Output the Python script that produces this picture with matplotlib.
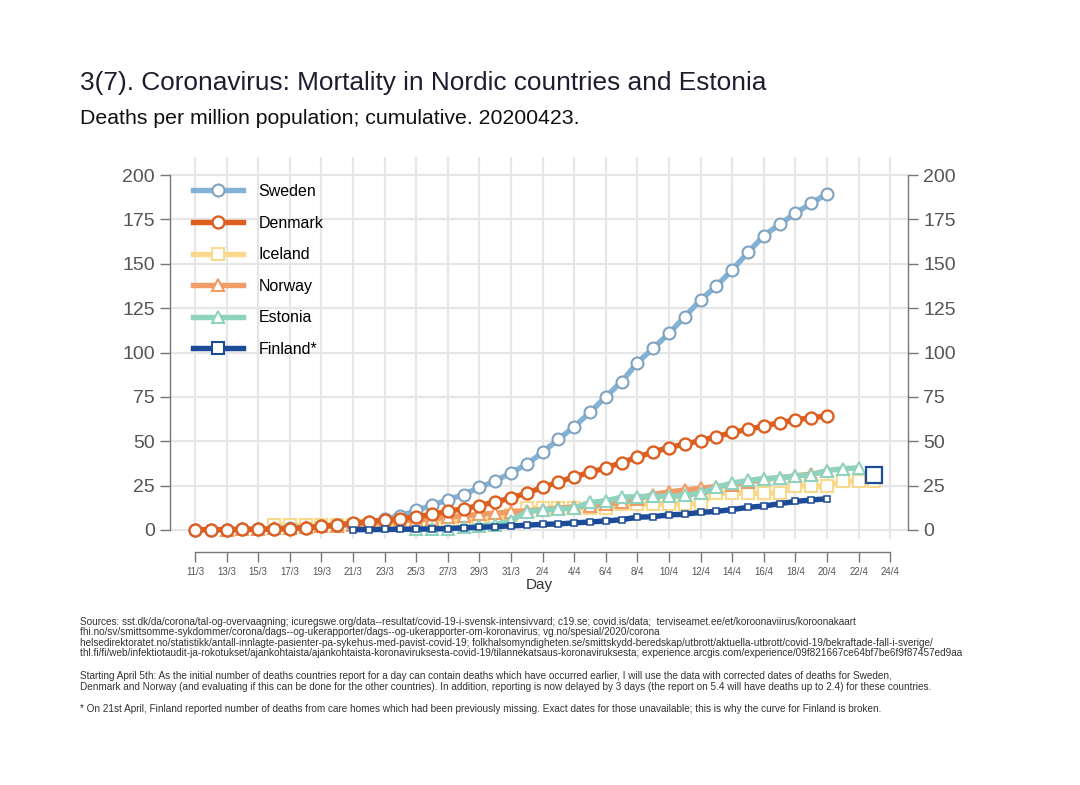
import matplotlib
matplotlib.use('Agg')
import matplotlib.pyplot as plt
import numpy as np
from matplotlib.lines import Line2D

plt.rcParams['font.family'] = ['Liberation Sans', 'DejaVu Sans']

# ---------------- data (day 0 = 11 March 2020) ----------------
tick_labels = ['11/3', '13/3', '15/3', '17/3', '19/3', '21/3', '23/3', '25/3', '27/3',
               '29/3', '31/3', '2/4', '4/4', '6/4', '8/4', '10/4', '12/4', '14/4',
               '16/4', '18/4', '20/4', '22/4', '24/4']
y_ticks = [0, 25, 50, 75, 100, 125, 150, 175, 200]

sweden_start = 0
sweden = [0.1, 0.1, 0.2, 0.3, 0.5, 0.7, 1.0, 1.4, 2.0, 2.7, 3.5, 4.5, 6.0,
          8.0, 11.0, 14.0, 17.0, 20.0, 24.0, 27.6, 32.3, 37.0, 43.8, 51.1, 58.2, 66.3, 75.1,
          83.5, 94.3, 102.4, 110.8, 120.2, 129.6, 137.5, 146.5, 156.4, 165.8, 172.2, 178.4,
          184.1, 189.3]

denmark_start = 0
denmark = [0.2, 0.2, 0.2, 0.3, 0.3, 0.5, 0.7, 1.2, 2.1, 2.8, 4.0, 4.7, 5.5, 6.3, 7.4,
           8.8, 10.5, 12.0, 13.8, 15.8, 18.0, 20.8, 24.0, 27.0, 30.0, 32.5, 35.0, 38.0,
           41.0, 44.0, 46.4, 48.5, 50.3, 52.6, 55.0, 56.7, 58.6, 60.5, 62.0, 63.3, 64.2]

iceland_start = 5
iceland = [2.75] * 8 + [5.5] * 7 + [8.2] + [12.4] * 6 + [14.6] * 6 + [20.8] * 5 + \
          [24.7] * 3 + [27.5] * 3

norway_start = 2
norway = [0.2, 0.4, 0.6, 0.9, 1.3, 1.7, 2.0, 2.4, 3.0, 3.5, 4.3, 5.0, 5.6, 6.3, 7.2,
          8.0, 8.8, 9.5, 10.2, 10.8, 11.5, 12.3, 13.0, 13.7, 14.5, 15.5, 17.5, 20.0,
          21.5, 22.5, 23.5, 24.5, 25.5, 27.0, 28.5, 29.5, 30.5, 31.5, 33.0]

estonia_start = 14
estonia = [0.75, 0.75, 0.75, 1.5, 2.3, 3.0, 5.3, 10.3, 11.3, 11.7, 12.4, 15.5, 16.5,
           18.5, 18.8, 19.0, 19.0, 19.5, 20.8, 24.0, 26.5, 27.9, 29.0, 29.3, 30.5, 31.0,
           33.5, 34.5, 35.0]

finland_start = 10
finland = [0.2, 0.2, 0.3, 0.4, 0.5, 0.6, 0.8, 1.2, 1.5, 1.9, 2.3, 2.7, 3.2, 3.4, 4.0,
           4.5, 5.1, 5.8, 7.2, 7.5, 8.5, 8.9, 9.9, 10.5, 11.5, 12.8, 13.5, 14.8, 16.1,
           16.9, 17.6]
finland_late_day = 43
finland_late = [31.0]

# ---------------- figure ----------------
W, H = 1080, 785
fig = plt.figure(figsize=(W / 100, H / 100), dpi=100)

def fx(px):
    return px / W

def fy(py):
    return 1 - py / H

ax_l, ax_r, ax_t, ax_b = 170, 908, 157, 539
ax = fig.add_axes([fx(ax_l), fy(ax_b), fx(ax_r) - fx(ax_l), fy(ax_t) - fy(ax_b)])

# x scale: day 0 at px 195, 15.8 px/day ; y: 0 at 530, 1.775 px/unit
x0px, xs = 195, 15.8
y0px, ys = 530, 1.775
ax.set_xlim((ax_l - x0px) / xs, (ax_r - x0px) / xs)
ax.set_ylim((y0px - ax_b) / ys, (y0px - ax_t) / ys)

grid_c = '#e6e6e6'
tick_days = np.arange(0, 2 * len(tick_labels), 2)
for d in tick_days:
    ax.axvline(d, color=grid_c, lw=1.6, zorder=0)
for v in y_ticks:
    ax.axhline(v, color=grid_c, lw=1.6, zorder=0)

def days(start, vals):
    return np.arange(start, start + len(vals))

c_swe, e_swe = '#82b2d6', '#7fa3c0'
c_den = '#dd5f1f'
c_ice = '#f9d98c'
c_nor = '#ef9c66'
c_est = '#8fd2be'
c_fin = '#1c4b97'

lw = 3.9
ax.plot(days(iceland_start, iceland), iceland, color=c_ice, lw=lw, marker='s', ms=8.0,
        mfc='white', mec=c_ice, mew=1.5, zorder=3)
ax.plot(days(norway_start, norway), norway, color=c_nor, lw=lw, marker='^', ms=9.0,
        mfc='white', mec=c_nor, mew=1.5, zorder=4)
ax.plot(days(estonia_start, estonia), estonia, color=c_est, lw=lw, marker='^', ms=9.0,
        mfc='white', mec=c_est, mew=1.5, zorder=5)
ax.plot(days(sweden_start, sweden), sweden, color=c_swe, lw=lw, marker='o', ms=8.6,
        mfc='white', mec=e_swe, mew=1.5, zorder=6)
ax.plot(days(denmark_start, denmark), denmark, color=c_den, lw=lw, marker='o', ms=8.6,
        mfc='white', mec=c_den, mew=1.7, zorder=7)
ax.plot(days(finland_start, finland), finland, color=c_fin, lw=lw, marker='s', ms=4.6,
        mfc='white', mec=c_fin, mew=1.1, zorder=8)
ax.plot([finland_late_day], finland_late, color=c_fin, lw=0, marker='s', ms=11,
        mfc='white', mec=c_fin, mew=1.6, zorder=8)

# axes styling
axis_c = '#777777'
ax.spines['top'].set_visible(False)
ax.spines['left'].set_bounds(0, 200)
ax.spines['right'].set_bounds(0, 200)
ax.spines['bottom'].set_bounds(0, 44)
ax.spines['bottom'].set_position(('outward', 9))
for s in ['left', 'right', 'bottom']:
    ax.spines[s].set_color(axis_c)
    ax.spines[s].set_linewidth(1.0)

ax.set_yticks(y_ticks)
ax.set_yticklabels([str(v) for v in y_ticks])
ax.tick_params(axis='y', which='both', left=True, right=True, labelleft=True,
               labelright=True, length=7, width=1.0, color=axis_c, labelsize=14,
               labelcolor='#555555', pad=4)
ax.set_xticks(tick_days)
ax.set_xticklabels(tick_labels)
ax.tick_params(axis='x', length=7, width=1.0, color=axis_c, labelsize=7,
               labelcolor='#555555', pad=4)
ax.set_xlabel('Day', fontsize=11, color='#333333', labelpad=1)

# legend
handles = [
    Line2D([], [], color=c_swe, lw=lw, marker='o', ms=8.6, mfc='white', mec=e_swe, mew=1.5),
    Line2D([], [], color=c_den, lw=lw, marker='o', ms=8.6, mfc='white', mec=c_den, mew=1.7),
    Line2D([], [], color=c_ice, lw=lw, marker='s', ms=8.0, mfc='white', mec=c_ice, mew=1.5),
    Line2D([], [], color=c_nor, lw=lw, marker='^', ms=9.0, mfc='white', mec=c_nor, mew=1.5),
    Line2D([], [], color=c_est, lw=lw, marker='^', ms=9.0, mfc='white', mec=c_est, mew=1.5),
    Line2D([], [], color=c_fin, lw=lw, marker='s', ms=8.0, mfc='white', mec=c_fin, mew=1.5),
]
labels = ['Sweden', 'Denmark', 'Iceland', 'Norway', 'Estonia', 'Finland*']
leg = ax.legend(handles, labels, loc='upper left',
                bbox_to_anchor=(fx(193), fy(184)), bbox_transform=fig.transFigure,
                frameon=False, fontsize=11.5, handlelength=3.1, handletextpad=1.0,
                labelspacing=1.04, borderpad=0, borderaxespad=0, numpoints=1)
leg.set_zorder(10)

# titles
fig.text(fx(80), fy(83), '3(7). Coronavirus: Mortality in Nordic countries and Estonia',
         fontsize=18.9, color='#1d1d30', ha='left', va='center')
fig.text(fx(80), fy(118), 'Deaths per million population; cumulative. 20200423.',
         fontsize=15.3, color='#111111', ha='left', va='center')

notes = [
    (622, 'Sources: sst.dk/da/corona/tal-og-overvaagning; icuregswe.org/data--resultat/covid-19-i-svensk-intensivvard; c19.se; covid.is/data;  terviseamet.ee/et/koroonaviirus/koroonakaart'),
    (632, 'fhi.no/sv/smittsomme-sykdommer/corona/dags--og-ukerapporter/dags--og-ukerapporter-om-koronavirus; vg.no/spesial/2020/corona'),
    (643, 'helsedirektoratet.no/statistikk/antall-innlagte-pasienter-pa-sykehus-med-pavist-covid-19; folkhalsomyndigheten.se/smittskydd-beredskap/utbrott/aktuella-utbrott/covid-19/bekraftade-fall-i-sverige/'),
    (653, 'thl.fi/fi/web/infektiotaudit-ja-rokotukset/ajankohtaista/ajankohtaista-koronaviruksesta-covid-19/tilannekatsaus-koronaviruksesta; experience.arcgis.com/experience/09f821667ce64bf7be6f9f87457ed9aa'),
    (676, 'Starting April 5th: As the initial number of deaths countries report for a day can contain deaths which have occurred earlier, I will use the data with corrected dates of deaths for Sweden,'),
    (687, 'Denmark and Norway (and evaluating if this can be done for the other countries). In addition, reporting is now delayed by 3 days (the report on 5.4 will have deaths up to 2.4) for these countries.'),
    (709, '* On 21st April, Finland reported number of deaths from care homes which had been previously missing. Exact dates for those unavailable; this is why the curve for Finland is broken.'),
]
for py, t in notes:
    fig.text(fx(80), fy(py), t, fontsize=7.2, color='#333333', ha='left', va='center')

fig.savefig('out.png', dpi=100, facecolor='white')
